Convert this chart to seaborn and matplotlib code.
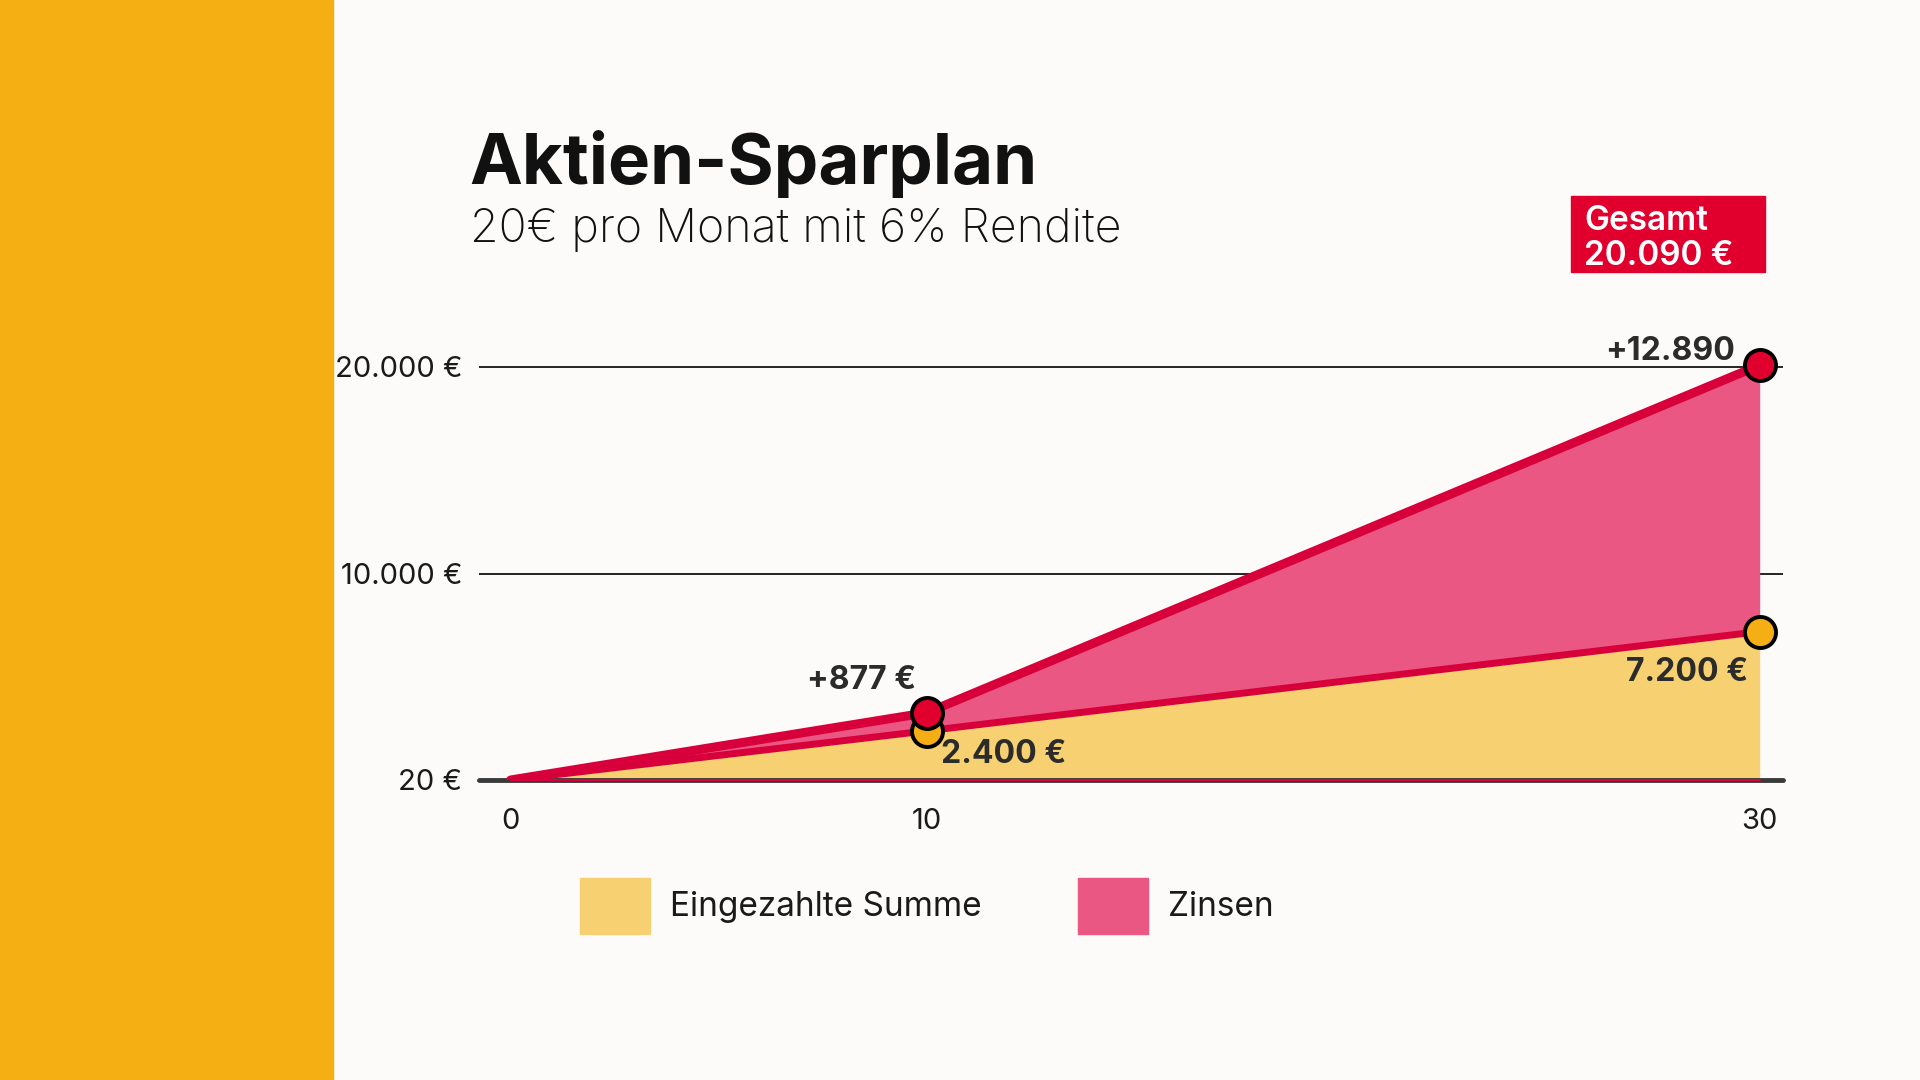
import matplotlib
matplotlib.use("Agg")
import matplotlib.pyplot as plt
from matplotlib.patches import Rectangle, Patch
import seaborn as sns

# data
years = [0, 10, 30]
eingezahlt = [20, 2400, 7200]
gesamt = [20, 3277, 20090]
y_ticks = [20, 10000, 20000]
y_ticklabels = ["20 €", "10.000 €", "20.000 €"]
x_ticks = [0, 10, 30]
x_ticklabels = ["0", "10", "30"]
labels_10 = ["+877 €", "2.400 €"]
labels_30 = ["+12.890", "7.200 €"]
legend_labels = ["Eingezahlte Summe", "Zinsen"]

# colours
BG = "#FCFBF9"
BAND = "#F6AF12"
YELLOW_FILL = "#F7D171"
PINK_FILL = "#EB5783"
RED = "#D7003B"
RED_MARK = "#E1002D"
YELLOW_MARK = "#F5AE14"
TXT = "#2B2B2B"

sns.set_theme(style="white")
plt.rcParams["font.family"] = ["Inter", "DejaVu Sans"]

fig = plt.figure(figsize=(19.2, 10.8), dpi=100, facecolor=BG)

# left yellow band
fig.patches.append(Rectangle((0, 0), 333 / 1920, 1, transform=fig.transFigure,
                             color=BAND, zorder=0))

ax = fig.add_axes([479 / 1920, 300 / 1080, 1304 / 1920, 0.4207])
ax.set_facecolor(BG)

# areas
ax.fill_between(years, 20, eingezahlt, color=YELLOW_FILL, lw=0, zorder=1)
ax.fill_between(years, eingezahlt, gesamt, color=PINK_FILL, lw=0, zorder=1)

# grid lines + baseline
for v in y_ticks[1:]:
    ax.axhline(v, color="black", lw=1.2, zorder=0.5)
ax.axhline(20, color="#3A3A3A", lw=3.5, zorder=2, clip_on=False)

sns.lineplot(x=years, y=eingezahlt, color=RED, lw=5, ax=ax, zorder=3)
sns.lineplot(x=years, y=gesamt, color=RED, lw=6.5, ax=ax, zorder=3)
ax.plot([years[0], years[-1]], [20, 20], color=RED, lw=1.5, zorder=3, clip_on=False)

# markers
ax.scatter(years[1:], gesamt[1:], s=500, color=RED_MARK, edgecolor="black",
           linewidth=2.8, zorder=5, clip_on=False)
ax.scatter(years[1:], eingezahlt[1:], s=500, color=YELLOW_MARK, edgecolor="black",
           linewidth=2.8, zorder=4, clip_on=False)

ann = dict(textcoords="offset points", fontsize=23, fontweight="bold", color=TXT, zorder=6)
ax.annotate(labels_10[0], (years[1], gesamt[1]), xytext=(-8, 12), ha="right", va="bottom", **ann)
ax.annotate(labels_10[1], (years[1], eingezahlt[1]), xytext=(10, -6), ha="left", va="top", **ann)
ax.annotate(labels_30[0], (years[2], gesamt[2]), xytext=(-18, 10), ha="right", va="center", **ann)
ax.annotate(labels_30[1], (years[2], eingezahlt[2]), xytext=(-8, -18), ha="right", va="top", **ann)

ax.set_xlim(-0.76, 30.56)
ax.set_ylim(20, 22000)
ax.set_yticks(y_ticks)
ax.set_yticklabels(y_ticklabels, fontsize=21, color="#1A1A1A")
ax.set_xticks(x_ticks)
ax.set_xticklabels(x_ticklabels, fontsize=21, color="#1A1A1A")
ax.tick_params(axis="y", length=0, pad=12)
ax.tick_params(axis="x", length=0, pad=20)
sns.despine(ax=ax, left=True, bottom=True)
ax.set_xlabel("")
ax.set_ylabel("")

# titles
fig.text(469 / 1920, 0.8296, "Aktien-Sparplan", fontsize=51, fontweight="bold",
         color="#111111", va="baseline")
fig.text(470 / 1920, 0.776, "20€ pro Monat mit 6% Rendite", fontsize=33.5,
         fontweight="light", color="#111111", va="baseline")

# total box
fig.patches.append(Rectangle((1571 / 1920, (1080 - 272) / 1080), 194 / 1920, 76 / 1080,
                             transform=fig.transFigure, color=RED_MARK, zorder=1))
fig.text(1584 / 1920, (1080 - 265) / 1080, "Gesamt\n20.090 €", fontsize=24,
         fontweight="semibold", color="white", va="baseline", linespacing=1.1)

# legend
handles = [Patch(color=YELLOW_FILL), Patch(color=PINK_FILL)]
fig.legend(handles, legend_labels, loc="upper left", bbox_to_anchor=(580 / 1920, 0.187),
           ncol=2, frameon=False, fontsize=24, handlelength=2.1, handleheight=2.2,
           handletextpad=0.6, columnspacing=2.9, borderpad=0, borderaxespad=0,
           labelcolor="#1A1A1A")

fig.savefig("out.png", dpi=100, facecolor=BG)
